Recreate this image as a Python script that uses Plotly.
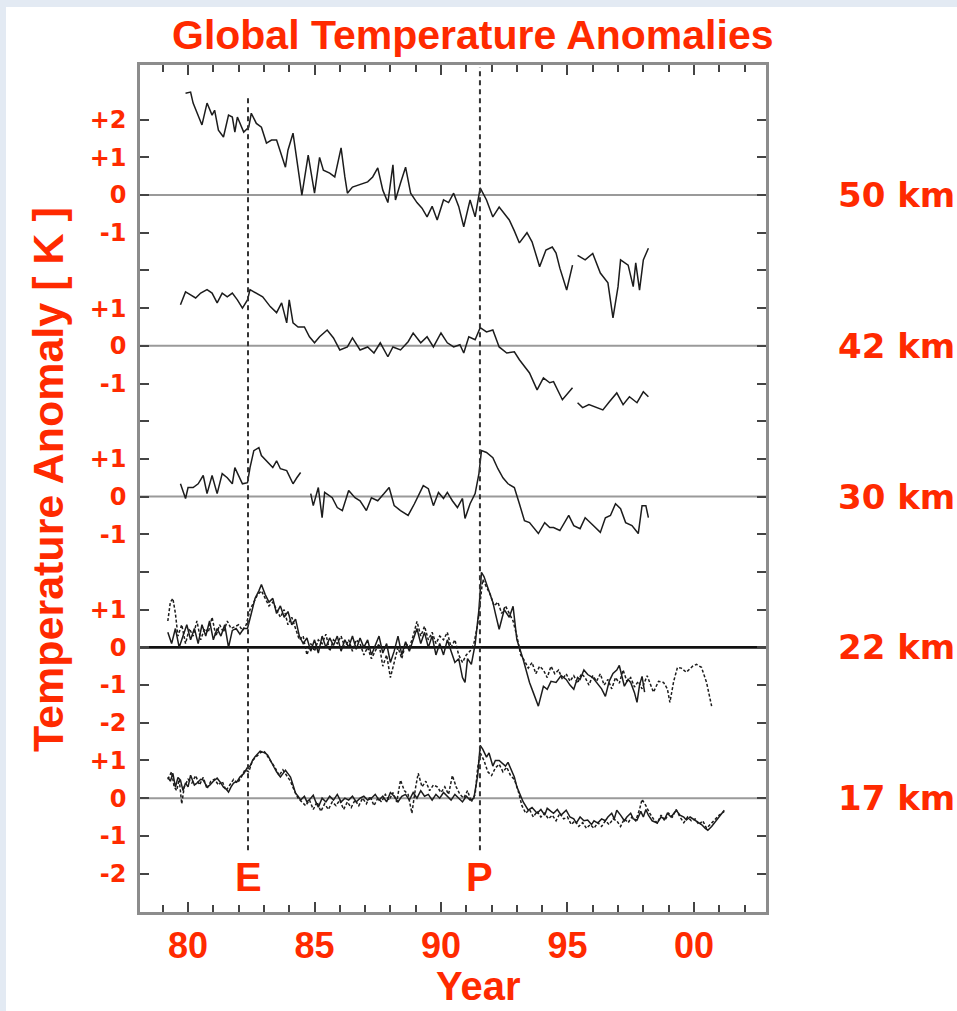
import plotly.graph_objects as go

# ---------------- data (years 19xx, anomaly in K) ----------------
yr50 = [79.9, 80.1, 80.2, 80.4, 80.55, 80.75, 80.95, 81.05, 81.2, 81.4, 81.6, 81.75, 81.85, 81.95, 82.2, 82.4,
        82.5, 82.7, 82.9, 83.1, 83.3, 83.5, 83.7, 83.85, 83.95, 84.15, 84.5, 84.75, 85.0, 85.2, 85.35, 85.6,
        85.8, 86.05, 86.2, 86.3, 86.5, 86.8, 87.1, 87.3, 87.5, 87.7, 87.9, 88.1, 88.2, 88.4, 88.6, 88.8,
        89.05, 89.25, 89.45, 89.65, 89.85, 90.1, 90.3, 90.5, 90.7, 90.9, 91.15, 91.35, 91.55, 91.8, 92.05,
        92.3, 92.5, 92.7, 92.9, 93.1, 93.4, 93.6, 93.9, 94.15, 94.4, 94.55, 94.7, 94.97, 95.2, 95.3, 95.4,
        95.7, 96.0, 96.3, 96.6, 96.8, 97.0, 97.1, 97.4, 97.6, 97.7, 97.85, 98.0, 98.2]
t50 = [2.7, 2.73, 2.44, 2.12, 1.86, 2.44, 2.12, 2.25, 1.72, 1.54, 2.12, 2.07, 1.67, 2.07, 1.67, 1.8,
       2.17, 1.9, 1.8, 1.38, 1.46, 1.46, 1.06, 0.74, 1.19, 1.64, 0.0, 1.06, 0.05, 1.0, 0.66, 0.58,
       0.48, 1.25, 0.48, 0.05, 0.21, 0.27, 0.35, 0.48, 0.72, 0.13, -0.2, 0.8, -0.13, 0.32, 0.74, 0.05,
       -0.2, -0.35, -0.58, -0.3, -0.66, -0.13, -0.2, 0.05, -0.3, -0.84, -0.13, -0.58, 0.19, -0.13, -0.58,
       -0.32, -0.5, -0.66, -0.95, -1.27, -1.0, -1.24, -1.9, -1.46, -1.38, -1.54, -1.94, -2.52, -1.86, None, -1.6,
       -1.72, -1.55, -2.07, -2.33, -3.26, -2.43, -1.72, -1.86, -2.43, -1.8, -2.52, -1.72, -1.41]

yr42 = [79.7, 79.9, 80.1, 80.3, 80.5, 80.75, 80.95, 81.15, 81.35, 81.55, 81.75, 81.95, 82.15, 82.35, 82.45,
        82.7, 82.95, 83.25, 83.5, 83.7, 83.9, 84.0, 84.15, 84.35, 84.6, 84.8, 85.0, 85.2, 85.5, 85.75, 86.0,
        86.3, 86.5, 86.8, 87.1, 87.35, 87.6, 87.9, 88.1, 88.4, 88.7, 88.9, 89.2, 89.45, 89.7, 90.0, 90.25,
        90.5, 90.75, 90.9, 91.1, 91.35, 91.55, 91.8, 92.05, 92.3, 92.6, 92.9, 93.1, 93.5, 93.8, 94.05, 94.3,
        94.45, 94.7, 94.8, 95.2, 95.3, 95.4, 95.6, 95.85, 96.1, 96.4, 96.65, 96.95, 97.2, 97.45, 97.75, 98.0, 98.2]
t42 = [1.09, 1.43, 1.35, 1.27, 1.4, 1.49, 1.4, 1.14, 1.4, 1.3, 1.4, 1.22, 1.0, 1.22, 1.49,
       1.4, 1.3, 1.04, 0.88, 1.14, 0.61, 1.22, 0.61, 0.5, 0.5, 0.24, 0.08, 0.24, 0.42, 0.21, -0.11,
       -0.03, 0.21, -0.11, -0.03, -0.19, 0.08, -0.29, -0.03, -0.11, 0.11, 0.34, 0.08, 0.24, -0.03, 0.34, 0.08,
       -0.03, 0.03, -0.19, 0.24, 0.16, 0.48, 0.37, 0.42, -0.03, -0.19, -0.16, -0.37, -0.72, -1.17, -0.85, -0.98,
       -0.95, -1.3, -1.43, -1.11, None, -1.51, -1.64, -1.56, -1.62, -1.7, -1.49, -1.25, -1.56, -1.35, -1.51, -1.22, -1.35]

yr30 = [79.7, 79.9, 80.0, 80.2, 80.4, 80.6, 80.75, 80.95, 81.15, 81.35, 81.55, 81.75, 81.85, 82.15, 82.35,
        82.45, 82.6, 82.8, 82.9, 83.1, 83.35, 83.5, 83.65, 83.9, 84.15, 84.3, 84.45, 84.6, 84.85, 84.95,
        85.15, 85.3, 85.4, 85.7, 85.9, 86.1, 86.35, 86.6, 86.8, 87.05, 87.25, 87.5, 87.75, 87.95, 88.15,
        88.4, 88.7, 88.95, 89.3, 89.5, 89.7, 89.9, 90.1, 90.25, 90.45, 90.65, 90.85, 90.95, 91.15, 91.35,
        91.5, 91.6, 91.8, 92.05, 92.25, 92.45, 92.65, 92.9, 93.1, 93.3, 93.5, 93.85, 94.1, 94.3, 94.45,
        94.7, 95.05, 95.25, 95.5, 95.7, 95.95, 96.3, 96.5, 96.7, 96.9, 97.1, 97.3, 97.55, 97.8, 97.95,
        98.1, 98.2]
t30 = [0.34, -0.05, 0.24, 0.24, 0.34, 0.56, 0.08, 0.56, 0.08, 0.61, 0.5, 0.34, 0.77, 0.34, 0.37,
       0.77, 1.22, 1.3, 1.09, 0.95, 0.77, 0.95, 0.74, 0.69, 0.34, 0.5, 0.64, None, 0.08, -0.24,
       0.24, -0.56, 0.11, -0.03, -0.29, -0.37, 0.16, -0.03, -0.11, -0.37, -0.03, -0.11, 0.08, 0.24, -0.24,
       -0.37, -0.5, -0.19, 0.29, 0.21, -0.24, 0.11, -0.05, 0.11, -0.11, -0.29, -0.05, -0.58, -0.19, 0.08,
       0.61, 1.22, 1.17, 1.03, 0.74, 0.5, 0.34, 0.24, -0.19, -0.64, -0.69, -0.98, -0.69, -0.82, -0.82,
       -0.9, -0.5, -0.77, -0.85, -0.56, -0.72, -0.95, -0.56, -0.5, -0.19, -0.32, -0.69, -0.77, -0.98, -0.24,
       -0.24, -0.56]

yr22s = [79.2, 79.35, 79.5, 79.65, 79.8, 79.95, 80.1, 80.25, 80.4, 80.55, 80.7, 80.85, 81.0, 81.15, 81.3,
         81.45, 81.6, 81.75, 81.9, 82.05, 82.2, 82.35, 82.5, 82.65, 82.8, 82.9, 83.05, 83.2, 83.35, 83.5,
         83.65, 83.8, 83.95, 84.1, 84.25, 84.4, 84.55, 84.7, 84.85, 85.0, 85.15, 85.3, 85.45, 85.6, 85.75,
         85.9, 86.05, 86.2, 86.35, 86.5, 86.65, 86.8, 86.95, 87.1, 87.25, 87.4, 87.55, 87.7, 87.85, 88.0,
         88.15, 88.3, 88.45, 88.6, 88.75, 88.9, 89.05, 89.2, 89.35, 89.5, 89.65, 89.8, 89.95, 90.1, 90.25,
         90.4, 90.55, 90.7, 90.85, 90.95, 91.05, 91.2, 91.35, 91.5, 91.6, 91.7, 91.9, 92.05, 92.15, 92.3,
         92.5, 92.7, 92.85, 93.0, 93.25, 93.5, 93.65, 93.85, 94.05, 94.2, 94.35, 94.55, 94.75, 94.95, 95.1,
         95.25, 95.4, 95.5, 95.65, 95.8, 96.0, 96.2, 96.35, 96.5, 96.65, 96.8, 96.95, 97.05, 97.15, 97.25,
         97.4, 97.5, 97.65, 97.75, 97.85, 97.95, 98.05]
t22s = [0.4, 0.1, 0.5, 0.0, 0.3, 0.6, 0.2, 0.5, 0.1, 0.6, 0.3, 0.7, 0.2, 0.5, 0.3,
        0.6, 0.0, 0.45, 0.5, 0.35, 0.5, 0.5, 0.9, 1.3, 1.5, 1.67, 1.4, 1.2, 1.3, 0.9,
        1.1, 0.8, 0.95, 0.6, 0.75, 0.3, 0.1, 0.25, -0.1, 0.2, -0.15, 0.3, 0.0, 0.25, 0.05,
        0.3, -0.1, 0.2, 0.0, 0.3, -0.05, 0.25, 0.0, 0.2, -0.2, 0.05, 0.3, -0.15, 0.1, -0.4,
        -0.1, 0.3, -0.2, 0.15, -0.1, 0.2, 0.5, 0.1, 0.4, 0.0, 0.3, -0.2, 0.1, -0.2, 0.2,
        -0.1, -0.4, -0.3, -0.8, -0.93, -0.3, -0.45, 0.08, 1.0, 1.99, 1.88, 1.46, 1.2, 0.9, 0.48,
        1.0, 0.8, 1.09, 0.21, -0.32, -0.93, -1.2, -1.56, -1.03, -1.11, -0.9, -0.93, -0.75, -0.85, -1.0,
        -1.11, -0.8, -0.85, -0.6, -0.72, -0.8, -0.98, -1.1, -1.3, -0.9, -0.69, -0.6, -0.48, -0.8, -1.03,
        -0.85, -0.93, -1.2, -1.46, -1.0, -0.77, -1.19]

yr22d = [79.2, 79.3, 79.4, 79.5, 79.6, 79.75, 79.9, 80.05, 80.2, 80.35, 80.5, 80.65, 80.8, 80.95, 81.1,
         81.25, 81.4, 81.55, 81.7, 81.85, 82.0, 82.15, 82.3, 82.45, 82.6, 82.75, 82.9, 83.05, 83.2, 83.35,
         83.5, 83.65, 83.8, 83.95, 84.1, 84.25, 84.4, 84.55, 84.7, 84.85, 85.0, 85.15, 85.3, 85.45, 85.6,
         85.75, 85.9, 86.05, 86.2, 86.35, 86.5, 86.65, 86.8, 86.95, 87.1, 87.25, 87.4, 87.55, 87.7, 87.85,
         88.0, 88.15, 88.3, 88.45, 88.6, 88.75, 88.9, 89.05, 89.2, 89.35, 89.5, 89.65, 89.8, 89.95, 90.1,
         90.25, 90.4, 90.55, 90.7, 90.85, 91.0, 91.15, 91.3, 91.45, 91.55, 91.65, 91.8, 91.95, 92.1, 92.25,
         92.4, 92.55, 92.7, 92.85, 93.0, 93.15, 93.3, 93.45, 93.6, 93.75, 93.9, 94.05, 94.2, 94.35, 94.5,
         94.65, 94.8, 94.95, 95.1, 95.25, 95.4, 95.55, 95.7, 95.85, 96.0, 96.15, 96.3, 96.45, 96.6, 96.75,
         96.9, 97.05, 97.2, 97.35, 97.5, 97.65, 97.8, 97.95, 98.15, 98.4, 98.6, 98.8, 98.95, 99.05, 99.2,
         99.35, 99.5, 99.7, 99.95, 100.1, 100.3, 100.5, 100.7]
t22d = [0.7, 1.2, 1.3, 0.9, 0.3, 0.6, 0.1, 0.5, 0.3, 0.7, 0.2, 0.5, 0.4, 0.8, 0.3,
        0.6, 0.4, 0.7, 0.5, 0.55, 0.6, 0.45, 0.6, 1.0, 1.2, 1.4, 1.5, 1.3, 1.1, 1.2,
        1.0, 0.8, 1.0, 0.6, 0.8, 0.5, 0.2, 0.3, -0.2, 0.1, -0.1, 0.2, 0.1, 0.35, -0.1,
        0.2, 0.1, 0.3, 0.0, 0.2, -0.1, 0.2, 0.1, -0.2, 0.0, -0.3, -0.1, 0.1, -0.5, -0.2,
        -0.8, -0.4, 0.0, -0.3, 0.1, 0.0, 0.3, 0.69, 0.3, 0.56, 0.2, 0.4, 0.1, 0.3, 0.2,
        0.4, 0.0, 0.2, -0.2, -0.4, -0.2, -0.1, 0.1, 0.6, 1.3, 1.8, 1.6, 1.4, 1.1, 1.2,
        0.9, 1.1, 0.9, 0.7, 0.3, -0.2, -0.35, -0.55, -0.4, -0.7, -0.5, -0.6, -0.8, -0.5, -0.7,
        -0.6, -0.85, -0.7, -0.9, -0.75, -0.95, -0.7, -0.8, -1.0, -0.75, -0.9, -0.7, -1.0, -0.85, -1.1,
        -0.8, -0.95, -0.6, -0.9, -0.8, -1.05, -0.9, -1.1, -0.75, -1.19, -0.9, -0.93, -1.1, -1.46, -0.9,
        -0.53, -0.55, -0.66, -0.5, -0.45, -0.53, -0.93, -1.56]

yr17s = [79.2, 79.3, 79.4, 79.5, 79.6, 79.7, 79.8, 79.9, 80.0, 80.1, 80.25, 80.35, 80.5, 80.6, 80.75,
         80.85, 81.0, 81.15, 81.3, 81.4, 81.5, 81.6, 81.7, 81.8, 81.95, 82.05, 82.2, 82.35, 82.45, 82.55,
         82.65, 82.75, 82.85, 82.95, 83.05, 83.15, 83.25, 83.4, 83.5, 83.65, 83.75, 83.85, 83.95, 84.05, 84.15,
         84.25, 84.35, 84.45, 84.6, 84.7, 84.85, 84.95, 85.05, 85.15, 85.3, 85.45, 85.6, 85.75, 85.9, 86.05,
         86.2, 86.35, 86.5, 86.65, 86.8, 86.95, 87.1, 87.25, 87.4, 87.55, 87.7, 87.85, 88.0, 88.15, 88.3,
         88.45, 88.6, 88.75, 88.9, 89.05, 89.2, 89.35, 89.5, 89.65, 89.8, 89.95, 90.1, 90.25, 90.4, 90.55,
         90.7, 90.85, 91.0, 91.15, 91.3, 91.45, 91.55, 91.65, 91.8, 91.9, 92.05, 92.15, 92.3, 92.45, 92.55,
         92.65, 92.8, 92.9, 93.0, 93.1, 93.25, 93.45, 93.6, 93.8, 93.95, 94.1, 94.2, 94.35, 94.45, 94.6,
         94.75, 94.95, 95.1, 95.25, 95.35, 95.5, 95.65, 95.8, 95.95, 96.05, 96.2, 96.35, 96.5, 96.6, 96.75,
         96.85, 96.95, 97.1, 97.25, 97.35, 97.5, 97.6, 97.75, 97.9, 98.0, 98.1, 98.2, 98.35, 98.55, 98.7,
         98.85, 98.95, 99.1, 99.3, 99.45, 99.6, 99.7, 99.85, 100.1, 100.3, 100.45, 100.55, 100.7, 100.8, 101.0,
         101.2]
t17s = [0.56, 0.45, 0.66, 0.29, 0.55, 0.48, 0.2, 0.4, 0.3, 0.61, 0.35, 0.4, 0.5, 0.48, 0.3,
        0.34, 0.45, 0.53, 0.4, 0.29, 0.25, 0.16, 0.3, 0.4, 0.45, 0.56, 0.65, 0.82, 0.85, 1.0,
        1.1, 1.19, 1.25, 1.22, 1.2, 1.14, 1.0, 0.82, 0.7, 0.56, 0.65, 0.74, 0.65, 0.56, 0.35,
        0.13, 0.05, -0.05, 0.05, -0.1, 0.0, 0.08, -0.1, -0.24, 0.0, -0.1, 0.05, -0.05, 0.1, -0.1,
        0.0, -0.05, 0.05, -0.1, 0.0, 0.05, -0.05, 0.0, 0.1, -0.05, 0.05, -0.1, 0.15, 0.05, -0.1,
        0.05, 0.1, -0.05, 0.15, 0.0, 0.2, 0.05, 0.1, -0.05, 0.1, 0.0, 0.15, 0.05, -0.05, 0.1,
        0.0, -0.1, 0.05, -0.05, 0.0, 0.6, 1.4, 1.3, 1.09, 1.2, 0.85, 1.0, 1.0, 0.9, 0.85,
        0.95, 0.7, 0.56, 0.3, 0.13, -0.1, -0.32, -0.25, -0.4, -0.3, -0.45, -0.27, -0.35, -0.4, -0.3,
        -0.45, -0.32, -0.5, -0.55, -0.66, -0.5, -0.6, -0.58, -0.7, -0.6, -0.66, -0.55, -0.6, -0.5, -0.4,
        -0.55, -0.32, -0.45, -0.6, -0.5, -0.4, -0.55, -0.58, -0.35, -0.5, -0.3, -0.45, -0.6, -0.66, -0.5,
        -0.55, -0.4, -0.5, -0.32, -0.45, -0.5, -0.58, -0.5, -0.6, -0.7, -0.8, -0.85, -0.75, -0.66, -0.5,
        -0.32]

yr17d = [79.2, 79.35, 79.45, 79.55, 79.65, 79.75, 79.85, 80.0, 80.15, 80.3, 80.45, 80.6, 80.75, 80.9, 81.05,
         81.2, 81.35, 81.5, 81.65, 81.8, 81.95, 82.1, 82.25, 82.4, 82.55, 82.7, 82.85, 83.0, 83.15, 83.3,
         83.45, 83.6, 83.75, 83.9, 84.05, 84.2, 84.35, 84.5, 84.65, 84.8, 84.95, 85.1, 85.25, 85.4, 85.55,
         85.7, 85.85, 86.0, 86.15, 86.3, 86.45, 86.6, 86.75, 86.9, 87.05, 87.2, 87.35, 87.5, 87.65, 87.8,
         87.95, 88.1, 88.25, 88.4, 88.55, 88.7, 88.85, 89.0, 89.1, 89.25, 89.4, 89.55, 89.7, 89.85, 90.0,
         90.15, 90.3, 90.45, 90.6, 90.75, 90.9, 91.05, 91.2, 91.35, 91.45, 91.55, 91.7, 91.85, 92.0, 92.15,
         92.3, 92.45, 92.6, 92.75, 92.9, 93.05, 93.2, 93.35, 93.5, 93.65, 93.8, 93.95, 94.1, 94.25, 94.4,
         94.55, 94.7, 94.85, 95.0, 95.15, 95.3, 95.45, 95.6, 95.75, 95.9, 96.05, 96.2, 96.35, 96.5, 96.65,
         96.8, 96.95, 97.1, 97.25, 97.4, 97.55, 97.7, 97.85, 97.95, 98.1, 98.25, 98.4, 98.55, 98.7, 98.85,
         99.0, 99.15, 99.3, 99.45, 99.6, 99.75, 99.9, 100.05, 100.2, 100.35, 100.5, 100.65, 100.8, 101.0, 101.2]
t17d = [0.5, 0.7, 0.3, 0.2, 0.5, -0.15, 0.3, 0.5, 0.4, 0.6, 0.35, 0.55, 0.25, 0.45, 0.5,
        0.35, 0.45, 0.2, 0.35, 0.5, 0.4, 0.55, 0.75, 0.7, 1.0, 1.1, 1.2, 1.25, 1.1, 0.95,
        0.8, 0.6, 0.75, 0.6, 0.45, 0.2, 0.0, -0.1, -0.2, -0.05, -0.3, -0.1, -0.35, -0.15, -0.3,
        -0.1, -0.2, -0.05, -0.3, -0.1, -0.25, -0.05, -0.2, 0.0, -0.15, 0.05, -0.2, 0.0, -0.1, 0.1,
        -0.05, 0.15, -0.1, 0.48, 0.2, 0.1, -0.4, 0.3, 0.66, 0.3, 0.45, 0.2, 0.35, 0.3, 0.15,
        0.3, 0.1, 0.6, 0.3, 0.1, 0.0, 0.2, -0.1, 0.1, 0.8, 1.2, 1.0, 0.7, 0.6, 0.8,
        0.9, 0.7, 0.82, 0.6, 0.5, 0.2, -0.2, -0.4, -0.3, -0.5, -0.35, -0.5, -0.4, -0.55, -0.45,
        -0.6, -0.4, -0.55, -0.5, -0.7, -0.6, -0.75, -0.65, -0.8, -0.7, -0.8, -0.65, -0.75, -0.6, -0.7,
        -0.55, -0.6, -0.75, -0.55, -0.65, -0.5, -0.6, -0.3, -0.03, -0.2, -0.4, -0.55, -0.66, -0.45, -0.6,
        -0.4, -0.5, -0.3, -0.5, -0.65, -0.5, -0.6, -0.55, -0.7, -0.6, -0.8, -0.7, -0.6, -0.45, -0.35]

levels = ["50 km", "42 km", "30 km", "22 km", "17 km"]
level_offsets = [16, 12, 8, 4, 0]

ytick_vals = [18, 17, 16, 15, 14, 13, 12, 11, 10, 9, 8, 7, 6, 5, 4, 3, 2, 1, 0, -1, -2]
ytick_text = ["+2", "+1", "0", "-1", "", "+1", "0", "-1", "", "+1", "0", "-1", "", "+1", "0", "-1", "-2",
              "+1", "0", "-1", "-2"]
xtick_vals = [80, 85, 90, 95, 100]
xtick_text = ["80", "85", "90", "95", "00"]

eruption_years = [82.37, 91.54]
eruption_labels = ["E", "P"]

# ---------------- figure ----------------
RED = "#ff2a00"
LINE = "#1c1c1c"
W, H = 957, 1011
L, R, T, B = 140, 766, 65, 912


def px_x(p):
    return (p - L) / (R - L)


def px_y(p):
    return (B - p) / (B - T)


series = [
    (yr50, t50, 16, "solid"),
    (yr42, t42, 12, "solid"),
    (yr30, t30, 8, "solid"),
    (yr22d, t22d, 4, "dot"),
    (yr22s, t22s, 4, "solid"),
    (yr17d, t17d, 0, "dot"),
    (yr17s, t17s, 0, "solid"),
]

fig = go.Figure()
for xs, vs, off, style in series:
    ys = [None if v is None else v + off for v in vs]
    fig.add_trace(go.Scatter(
        x=xs, y=ys, mode="lines", connectgaps=False, showlegend=False, hoverinfo="skip",
        line=dict(color=LINE, width=1.5, dash="3px,2px" if style == "dot" else "solid"),
    ))

shapes = []
# white panel over the light blue frame
shapes.append(dict(type="rect", xref="paper", yref="paper", x0=px_x(6), x1=px_x(W + 5),
                   y0=px_y(H + 5), y1=px_y(7), fillcolor="white", line=dict(width=0), layer="below"))
# zero lines
for name, off in zip(levels, level_offsets):
    thick = name == "22 km"
    shapes.append(dict(type="line", xref="paper", yref="y", x0=0, x1=1, y0=off, y1=off,
                       line=dict(color="#111111" if thick else "#9a9a9a", width=2.6 if thick else 2),
                       layer="below"))
# eruption dashed lines
shapes.append(dict(type="line", xref="x", yref="y", x0=eruption_years[0], x1=eruption_years[0],
                   y0=-1.38, y1=18.6, line=dict(color="#333333", width=2, dash="5px,4px")))
shapes.append(dict(type="line", xref="x", yref="y", x0=eruption_years[1], x1=eruption_years[1],
                   y0=-1.38, y1=19.4, line=dict(color="#333333", width=2, dash="5px,4px")))

annotations = []
BOLD = "Liberation Sans, Arial, sans-serif"
annotations.append(dict(text="Global Temperature Anomalies", xref="paper", yref="paper",
                        x=px_x(473), y=px_y(35), xanchor="center", yanchor="middle", showarrow=False,
                        font=dict(family=BOLD, size=41, color=RED, weight="bold")))
annotations.append(dict(text="Temperature Anomaly [ K ]", xref="paper", yref="paper",
                        x=px_x(48), y=px_y(480), xanchor="center", yanchor="middle", showarrow=False,
                        textangle=-90, font=dict(family=BOLD, size=43, color=RED, weight="bold")))
annotations.append(dict(text="Year", xref="paper", yref="paper",
                        x=px_x(478), y=px_y(986), xanchor="center", yanchor="middle", showarrow=False,
                        font=dict(family=BOLD, size=40, color=RED, weight="bold")))
for name, off in zip(levels, level_offsets):
    annotations.append(dict(text=name, xref="paper", yref="y", x=px_x(836), y=off,
                            xanchor="left", yanchor="middle", showarrow=False,
                            font=dict(family="DejaVu Sans, sans-serif", size=34, color=RED, weight="bold")))
for xv, lab in zip(eruption_years, eruption_labels):
    annotations.append(dict(text=lab, xref="x", yref="y", x=xv, y=-2.1, xanchor="center",
                            yanchor="middle", showarrow=False,
                            font=dict(family=BOLD, size=40, color=RED, weight="bold")))

fig.update_layout(
    width=W, height=H,
    margin=dict(l=L, r=W - R, t=T, b=H - B, pad=0),
    paper_bgcolor="#e3eaf3", plot_bgcolor="white",
    shapes=shapes, annotations=annotations,
    xaxis=dict(range=[78.1, 102.85], showgrid=False, zeroline=False,
               showline=True, linecolor="#8c8c8c", linewidth=2.5, mirror="ticks",
               ticks="inside", ticklen=10, tickwidth=1.5, tickcolor="#444444",
               tickvals=xtick_vals, ticktext=xtick_text, ticklabelstandoff=0,
               minor=dict(dtick=1, tick0=0, ticks="inside", ticklen=7, tickwidth=1.5, tickcolor="#444444"),
               tickfont=dict(family=BOLD, size=36, color=RED, weight="bold")),
    yaxis=dict(range=[-3.02, 19.45], showgrid=False, zeroline=False,
               showline=True, linecolor="#8c8c8c", linewidth=2.5, mirror="ticks",
               ticks="inside", ticklen=9, tickwidth=1.5, tickcolor="#444444",
               tickvals=ytick_vals, ticktext=ytick_text, ticklabelstandoff=6,
               tickfont=dict(family="DejaVu Sans, sans-serif", size=24, color=RED, weight="bold")),
)

fig.write_html("out.html")
